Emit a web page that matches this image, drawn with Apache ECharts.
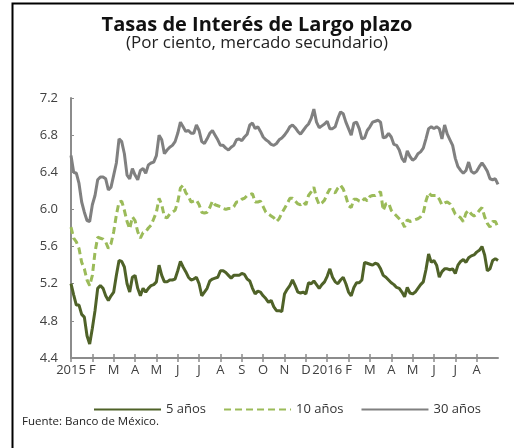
<!DOCTYPE html>
<html>
<head>
<meta charset="utf-8">
<script src="https://cdn.jsdelivr.net/npm/echarts@6/dist/echarts.min.js"></script>
<style>
html, body { margin: 0; padding: 0; background: #fff; }
#main { width: 514px; height: 448px; }
</style>
</head>
<body>
<div id="main"></div>
<script>
// etiquetas de meses (ene 2015 - ago 2016)
var meses = ['2015', 'F', 'M', 'A', 'M', 'J', 'J', 'A', 'S', 'O', 'N', 'D',
	'2016', 'F', 'M', 'A', 'M', 'J', 'J', 'A'];
// lecturas cada octavo de mes (una fila = un mes)
var paso = 0.125;
var bono5 = [
	5.20, 5.08, 4.97, 4.97, 4.87, 4.84, 4.64, 4.55,
	4.72, 4.91, 5.15, 5.18, 5.15, 5.07, 5.02, 5.07,
	5.11, 5.29, 5.45, 5.44, 5.38, 5.20, 5.11, 5.27,
	5.29, 5.15, 5.07, 5.15, 5.11, 5.15, 5.18, 5.19,
	5.22, 5.40, 5.29, 5.22, 5.22, 5.24, 5.24, 5.25,
	5.34, 5.44, 5.38, 5.33, 5.27, 5.24, 5.25, 5.27,
	5.20, 5.07, 5.11, 5.15, 5.23, 5.25, 5.26, 5.27,
	5.34, 5.34, 5.32, 5.29, 5.26, 5.29, 5.29, 5.29,
	5.31, 5.30, 5.25, 5.23, 5.15, 5.09, 5.12, 5.11,
	5.07, 5.04, 5.00, 5.02, 4.95, 4.91, 4.91, 4.90,
	5.09, 5.14, 5.18, 5.24, 5.18, 5.11, 5.10, 5.11,
	5.09, 5.21, 5.20, 5.23, 5.19, 5.15, 5.19, 5.22,
	5.28, 5.36, 5.27, 5.22, 5.20, 5.24, 5.27, 5.20,
	5.11, 5.07, 5.16, 5.21, 5.21, 5.24, 5.43, 5.42,
	5.41, 5.40, 5.42, 5.41, 5.36, 5.29, 5.27, 5.24,
	5.21, 5.19, 5.16, 5.15, 5.11, 5.06, 5.16, 5.10,
	5.09, 5.11, 5.15, 5.19, 5.22, 5.35, 5.52, 5.43,
	5.45, 5.40, 5.27, 5.33, 5.36, 5.36, 5.35, 5.36,
	5.31, 5.40, 5.44, 5.46, 5.43, 5.48, 5.50, 5.51,
	5.54, 5.56, 5.60, 5.51, 5.34, 5.36, 5.45, 5.47,
	5.45
];
var bono10 = [
	5.81, 5.69, 5.65, 5.58, 5.43, 5.36, 5.24, 5.18,
	5.29, 5.54, 5.70, 5.69, 5.68, 5.65, 5.58, 5.63,
	5.76, 5.94, 6.08, 6.09, 5.99, 5.87, 5.79, 5.92,
	5.88, 5.76, 5.69, 5.75, 5.76, 5.80, 5.83, 5.90,
	5.97, 6.12, 6.05, 5.92, 5.91, 5.95, 5.97, 5.99,
	6.08, 6.23, 6.26, 6.18, 6.14, 6.08, 6.09, 6.10,
	6.05, 5.97, 5.96, 5.97, 6.02, 6.09, 6.05, 6.04,
	6.03, 6.01, 6.00, 6.01, 6.01, 6.03, 6.08, 6.08,
	6.11, 6.12, 6.15, 6.16, 6.17, 6.08, 6.08, 6.09,
	6.03, 5.97, 5.95, 5.93, 5.91, 5.87, 5.90, 5.96,
	6.01, 6.06, 6.12, 6.12, 6.09, 6.06, 6.05, 6.08,
	6.05, 6.15, 6.19, 6.24, 6.12, 6.05, 6.07, 6.10,
	6.17, 6.22, 6.19, 6.18, 6.23, 6.26, 6.22, 6.14,
	6.04, 6.02, 6.11, 6.11, 6.09, 6.08, 6.12, 6.09,
	6.14, 6.15, 6.15, 6.17, 6.19, 5.99, 6.06, 6.07,
	5.99, 5.96, 5.93, 5.90, 5.87, 5.81, 5.89, 5.87,
	5.88, 5.89, 5.90, 5.92, 5.96, 6.09, 6.18, 6.15,
	6.15, 6.15, 6.11, 6.05, 6.07, 6.08, 6.06, 6.01,
	5.95, 5.93, 5.91, 5.87, 5.96, 5.99, 5.95, 5.93,
	5.95, 5.99, 6.02, 5.92, 5.85, 5.81, 5.87, 5.87,
	5.81
];
var bono30 = [
	6.58, 6.40, 6.39, 6.28, 6.08, 5.97, 5.88, 5.87,
	6.05, 6.15, 6.32, 6.35, 6.35, 6.33, 6.21, 6.24,
	6.37, 6.50, 6.76, 6.73, 6.60, 6.37, 6.33, 6.44,
	6.37, 6.32, 6.42, 6.44, 6.39, 6.48, 6.50, 6.51,
	6.58, 6.80, 6.75, 6.60, 6.64, 6.67, 6.69, 6.73,
	6.82, 6.94, 6.89, 6.84, 6.85, 6.82, 6.82, 6.91,
	6.85, 6.73, 6.71, 6.76, 6.82, 6.85, 6.80, 6.75,
	6.69, 6.69, 6.66, 6.64, 6.67, 6.69, 6.75, 6.76,
	6.74, 6.78, 6.81, 6.91, 6.93, 6.87, 6.89, 6.84,
	6.78, 6.75, 6.73, 6.70, 6.69, 6.71, 6.75, 6.77,
	6.80, 6.84, 6.89, 6.91, 6.88, 6.84, 6.81, 6.85,
	6.89, 6.92, 6.98, 7.08, 6.94, 6.88, 6.90, 6.92,
	6.95, 6.87, 6.87, 6.89, 6.98, 7.05, 7.03, 6.94,
	6.87, 6.80, 6.93, 6.94, 6.87, 6.76, 6.77, 6.85,
	6.89, 6.94, 6.95, 6.96, 6.94, 6.77, 6.78, 6.82,
	6.78, 6.70, 6.69, 6.64, 6.55, 6.51, 6.63, 6.57,
	6.53, 6.55, 6.60, 6.62, 6.66, 6.76, 6.87, 6.89,
	6.87, 6.89, 6.87, 6.76, 6.91, 6.81, 6.75, 6.69,
	6.55, 6.46, 6.42, 6.39, 6.42, 6.51, 6.41, 6.39,
	6.41, 6.46, 6.50, 6.46, 6.41, 6.33, 6.32, 6.33,
	6.27
];

function pares(arr) {
	var out = [];
	for (var i = 0; i < arr.length; i++) {
		out.push([i * paso, arr[i]]);
	}
	return out;
}
var marcas = [];
for (var k = 0; k < meses.length; k++) marcas.push(k);

var fuente = '"Open Sans", "Noto Sans", sans-serif';
var gris = '#8c8c8c';

var myChart = echarts.init(document.getElementById('main'));
var option = {
	animation: false,
	textStyle: { fontFamily: fuente },
	title: {
		text: 'Tasas de Interés de Largo plazo',
		subtext: '(Por ciento, mercado secundario)',
		left: 'center',
		top: 10,
		itemGap: 0,
		textStyle: { fontSize: 20, fontWeight: 'bold', color: '#111', fontFamily: fuente },
		subtextStyle: { fontSize: 17, color: '#222', fontFamily: fuente }
	},
	legend: {
		left: 88,
		top: 398,
		itemWidth: 67,
		itemHeight: 8,
		itemGap: 17,
		itemStyle: { opacity: 0 },
		textStyle: { fontSize: 13, color: '#333', fontFamily: fuente },
		data: ['5 años', '10 años', '30 años']
	},
	grid: { left: 71, right: 16, top: 98, bottom: 90 },
	xAxis: [{
		type: 'value',
		min: 0,
		max: 20,
		interval: 1,
		splitLine: { show: false },
		axisLine: { lineStyle: { color: gris, width: 2 } },
		axisTick: { length: 4, lineStyle: { color: gris, width: 1.5 }, customValues: marcas },
		axisLabel: {
			customValues: marcas,
			margin: 6,
			fontSize: 13,
			color: '#404040',
			formatter: function (v) { return meses[Math.round(v)] || ''; }
		}
	}, {
		type: 'value',
		min: 0,
		max: 20,
		position: 'bottom',
		splitLine: { show: false },
		axisLine: { show: false },
		axisLabel: { show: false },
		axisTick: { inside: true, length: 4, lineStyle: { color: gris, width: 1.5 }, customValues: marcas }
	}],
	yAxis: {
		type: 'value',
		min: 4.4,
		max: 7.2,
		interval: 0.4,
		splitLine: { show: false },
		axisLine: { show: true, lineStyle: { color: gris, width: 2 } },
		axisTick: { show: true, inside: true, length: 3, lineStyle: { color: gris } },
		axisLabel: {
			margin: 13,
			fontSize: 13,
			color: '#404040',
			formatter: function (v) { return v.toFixed(1); }
		}
	},
	series: [{
		name: '5 años',
		type: 'line',
		showSymbol: false,
		symbol: 'none',
		lineStyle: { color: '#4f6228', width: 3 },
		itemStyle: { color: '#4f6228' },
		data: pares(bono5)
	}, {
		name: '10 años',
		type: 'line',
		showSymbol: false,
		symbol: 'none',
		lineStyle: { color: '#9bbb59', width: 3, type: [7, 4] },
		itemStyle: { color: '#9bbb59' },
		data: pares(bono10)
	}, {
		name: '30 años',
		type: 'line',
		showSymbol: false,
		symbol: 'none',
		lineStyle: { color: '#808080', width: 3 },
		itemStyle: { color: '#808080' },
		data: pares(bono30)
	}],
	graphic: [{
		type: 'rect',
		silent: true,
		shape: { x: 12.5, y: 3.5, width: 520, height: 480 },
		style: { fill: 'none', stroke: '#000', lineWidth: 2 }
	}, {
		type: 'text',
		left: 22,
		top: 416,
		style: { text: 'Fuente: Banco de México.', fontSize: 11.5, fill: '#222', fontFamily: fuente }
	}]
};
myChart.setOption(option);
</script>
</body>
</html>
